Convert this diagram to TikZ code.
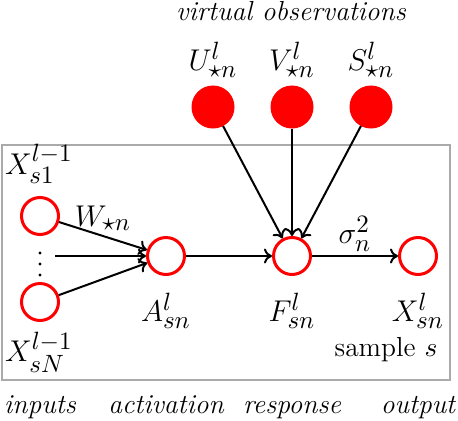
\documentclass[tikz,border=0pt]{standalone}
\usetikzlibrary{arrows.meta}
\DeclareMathSizes{13}{13}{10}{8}
\definecolor{nodered}{RGB}{255,0,0}
\definecolor{boxgray}{RGB}{170,170,170}
\tikzset{
  latent/.style={circle,draw=nodered,line width=1.2pt,minimum size=14.8pt,inner sep=0pt,fill=white},
  observed/.style={circle,fill=nodered,draw=nodered,minimum size=16.8pt,inner sep=0pt},
  conn/.style={-{To[length=3.2pt,width=6pt]},line width=0.8pt,black},
  mlabel/.style={inner sep=0pt,font=\fontsize{13}{15}\selectfont},
  tlabel/.style={inner sep=0pt,anchor=base,font=\fontsize{11}{13}\selectfont\itshape},
}
\begin{document}
\begin{tikzpicture}[x=0.4pt,y=-0.4pt]
\useasboundingbox (0,0) rectangle (458,420);
% plate
\node[draw=boxgray,line width=0.6pt,minimum width=448*0.4pt,minimum height=235*0.4pt,inner sep=0pt] (plate) at (226,262.5) {};
% nodes
\node[latent] (x1) at (40,216) {};
\node[latent] (xN) at (40,302) {};
\node[latent] (A) at (166,256) {};
\node[latent] (F) at (292,256) {};
\node[latent] (X) at (418,256) {};
\node[observed] (U) at (213,107) {};
\node[observed] (V) at (292,107) {};
\node[observed] (S) at (371,107) {};
\coordinate (mid) at (55,256);
% vertical dots
\foreach \yy in {253,264,275} \fill (40,\yy) circle (0.65pt);
% labels
\node[tlabel] (virt) at (291,20) {virtual observations};
\node[mlabel] (Ul) at (213,60) {$U^{l}_{\star n}$};
\node[mlabel] (Vl) at (292,60) {$V^{l}_{\star n}$};
\node[mlabel] (Sl) at (371,60) {$S^{l}_{\star n}$};
\node[mlabel] (x1l) at (39,164) {$X^{l-1}_{s1}$};
\node[mlabel] (xNl) at (39,352) {$X^{l-1}_{sN}$};
\node[mlabel] (Al) at (166,311) {$A^{l}_{sn}$};
\node[mlabel] (Fl) at (292,311) {$F^{l}_{sn}$};
\node[mlabel] (Xl) at (418,311) {$X^{l}_{sn}$};
\node[mlabel] (W) at (103,218) {$W_{\star n}$};
\node[mlabel] (sig) at (355,234) {$\sigma^2_n$};
\node[inner sep=0pt,font=\fontsize{11}{13}\selectfont] (samp) at (386,350) {sample $s$};
\node[tlabel] (tin) at (40,413) {inputs};
\node[tlabel] (tact) at (166,413) {activation};
\node[tlabel] (tres) at (292,413) {response};
\node[tlabel] (tout) at (418,413) {output};
% connectors
\draw[conn] (x1) -- (A);
\draw[conn] (xN) -- (A);
\draw[conn] (mid) -- (A);
\draw[conn] (A) -- (F);
\draw[conn] (F) -- (X);
\draw[conn] (U) -- (F);
\draw[conn] (V) -- (F);
\draw[conn] (S) -- (F);
\end{tikzpicture}
\end{document}
